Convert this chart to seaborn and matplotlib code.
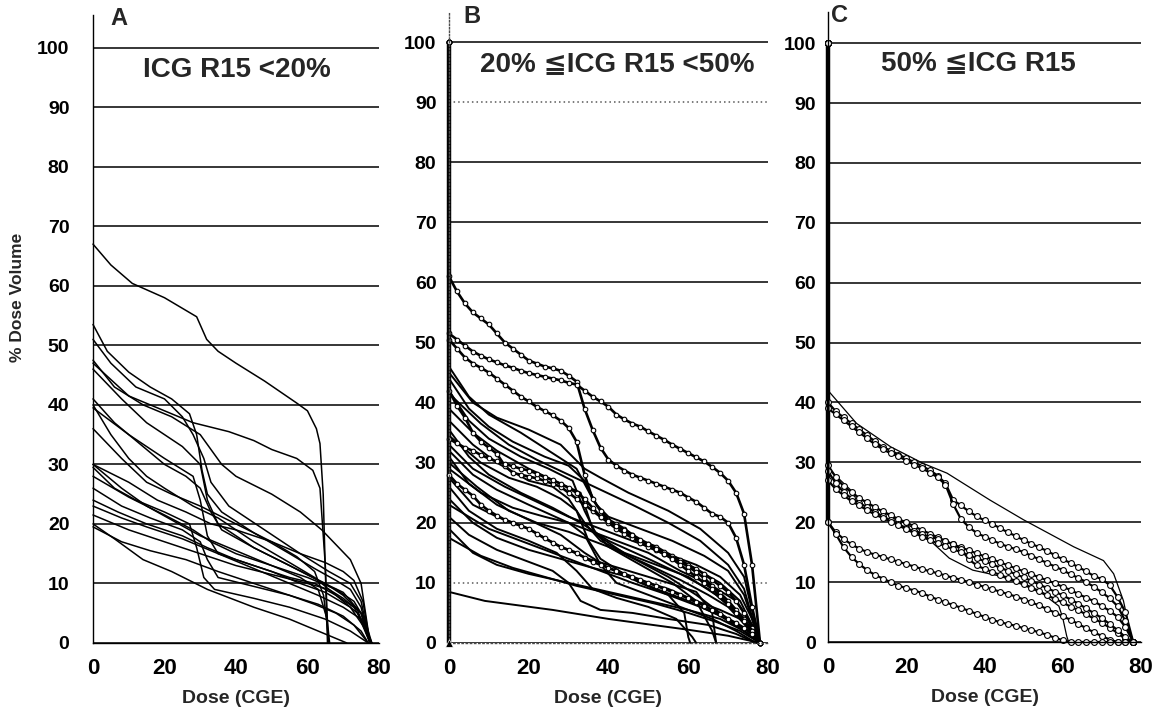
import pandas as pd
import matplotlib
matplotlib.use("Agg")
import matplotlib.pyplot as plt
import seaborn as sns

sns.set_style("white")
plt.rcParams['font.family'] = ['Liberation Sans', 'DejaVu Sans']
plt.rcParams['font.weight'] = 'bold'

# dose grid (CGE) used by the curves drawn with open markers
grid = list(range(0, 80, 2))

# Panel A : ICG R15 < 20%  -> (dose, % volume) per patient
curves_a = [
    [(0, 67), (5, 63.5), (11, 60.4), (20, 58), (29, 54.8), (31.8, 51), (35, 49), (40, 47), (48, 44), (57, 40.3),
     (60, 39), (62.5, 36), (63.5, 33.5), (64.4, 25), (65, 12), (65.6, 0)],
    [(0, 47), (10, 41.5), (20, 39), (28, 37), (38, 35.5), (45, 34), (50, 32.5), (57, 31), (61.5, 29), (63.5, 26),
     (65, 13), (65.8, 0)],
    [(0, 53.5), (4, 49), (10, 45.5), (16, 43), (22, 41), (27, 38.5), (29, 35), (30.5, 29), (32, 25), (36, 22),
     (45, 18.5), (55, 15), (62, 12.5), (68, 10.5), (72, 9), (75, 6), (77.5, 0)],
    [(0, 51), (5, 47), (12, 43), (20, 41), (25, 38), (28, 35), (31, 31), (33, 27), (38, 23), (48, 19), (58, 15),
     (66, 12), (72, 10), (75, 7), (77.5, 0)],
    [(0, 47.5), (6, 43), (14, 40), (22, 38), (30, 35), (36, 30), (40, 28), (50, 25), (58, 22), (64, 19),
     (68, 16.5), (72, 14), (75, 10), (77.5, 0)],
    [(0, 46), (8, 41), (15, 37), (25, 33), (30, 30), (32, 24), (35, 20), (45, 16), (55, 13), (65, 10), (70, 8),
     (75, 5), (77.5, 0)],
    [(0, 41), (6, 37), (12, 34), (20, 30), (26, 28), (30, 26), (33, 22), (36, 19), (45, 16), (55, 13),
     (63, 10.5), (70, 8.5), (75, 5), (77.5, 0)],
    [(0, 40), (5, 35), (10, 31), (15, 28), (20, 26), (28, 23), (35, 21), (45, 17), (55, 13.5), (62, 11), (68, 8),
     (74, 5), (77.5, 0)],
    [(0, 39.5), (10, 35), (20, 31), (28, 28), (30, 24), (32, 18), (35, 15), (45, 12.5), (55, 10), (63, 8),
     (70, 6), (75, 4), (77.5, 0)],
    [(0, 36), (8, 31), (15, 27), (22, 25), (30, 23), (40, 20), (50, 17), (57, 14.5), (62, 12), (64.5, 8),
     (65.5, 3), (66, 0)],
    [(0, 30), (10, 27), (18, 24), (26, 22), (33, 20), (40, 19), (50, 17), (58, 15), (65, 13.5), (70, 12),
     (73, 10.5), (75.5, 7), (77.5, 0)],
    [(0, 30), (8, 26), (15, 23), (24, 20), (30, 18), (40, 15.5), (50, 13), (58, 11), (63, 9), (65.5, 4),
     (66.2, 0)],
    [(0, 29.5), (6, 26), (12, 24), (20, 22), (27, 20), (29, 16), (31, 11), (34, 9), (45, 7.5), (55, 6), (65, 4),
     (72, 2), (77, 0)],
    [(0, 28), (10, 24.5), (20, 21.5), (28, 19), (33, 17), (40, 15), (50, 13), (60, 11), (68, 9), (73, 7), (76, 4),
     (78, 0)],
    [(0, 26), (8, 23), (16, 21), (25, 19), (30, 17), (32, 14), (35, 11), (45, 9.5), (55, 8), (63, 6.5),
     (70, 4.5), (75, 2), (77, 0)],
    [(0, 24), (7, 22), (15, 20), (25, 18), (32, 16), (40, 14), (50, 12), (58, 10), (65, 8.5), (72, 6), (76, 2.5),
     (78, 0)],
    [(0, 23), (8, 21), (15, 19.5), (25, 17.5), (35, 15), (45, 13), (55, 11), (62, 10), (68, 8), (73, 6), (76, 3),
     (78, 0)],
    [(0, 21.5), (10, 19), (20, 17), (30, 15), (40, 13), (50, 11.5), (60, 10), (66, 9), (70, 7.5), (74, 5.5),
     (77, 1), (78, 0)],
    [(0, 20), (6, 17.5), (14, 14), (22, 12), (32, 9), (45, 6), (55, 4), (65, 1.5), (71, 0)],
    [(0, 19.5), (8, 17), (16, 15.5), (26, 14), (35, 12), (45, 10), (55, 8), (62, 6.5), (68, 5), (73, 3), (77, 0)],
]

# Panel B : 20% <= ICG R15 < 50%
curves_b = [
    [(0, 46), (5, 41), (10, 38), (18, 35), (25, 32), (32, 29), (36, 24), (40, 20), (50, 16), (60, 13), (68, 10),
     (73, 7), (76, 3), (78, 0)],
    [(0, 45), (6, 40), (12, 37.5), (20, 35.5), (28, 33), (34, 29), (38, 27.5), (45, 25), (55, 22), (63, 19),
     (70, 15), (74, 11), (76.5, 4), (78, 0)],
    [(0, 42), (5, 37), (10, 34), (18, 31), (25, 29), (31, 27), (34, 22), (37, 18), (45, 14.5), (55, 11), (62, 8),
     (68, 5), (74, 2), (78, 0)],
    [(0, 41.5), (8, 36.5), (15, 33), (22, 30.5), (30, 28), (38, 25.5), (46, 23), (55, 20), (63, 17), (70, 13),
     (74, 9), (77, 2), (78, 0)],
    [(0, 39), (6, 35), (12, 32), (20, 29), (28, 26.5), (33, 25), (36, 19), (40, 16), (48, 13), (56, 10), (62, 7),
     (66, 2), (67, 0)],
    [(0, 35.5), (5, 31), (10, 28), (18, 25), (26, 22.5), (33, 20), (40, 17), (50, 14), (58, 11.5), (65, 9),
     (72, 5.5), (76, 2), (78, 0)],
    [(0, 34.5), (8, 30), (15, 27.5), (22, 26), (28, 24), (32, 22), (35, 17), (38, 14), (45, 11), (52, 9), (60, 7),
     (68, 4.5), (74, 2), (78, 0)],
    [(0, 32), (6, 28), (12, 25.5), (20, 23), (30, 20), (40, 17.5), (50, 15), (58, 12), (66, 9.5), (72, 7), (76, 3),
     (78, 0)],
    [(0, 31), (5, 26.5), (12, 23), (20, 20.5), (28, 18), (34, 15), (40, 12.5), (48, 10), (55, 8), (59, 5),
     (60, 1), (60.5, 0)],
    [(0, 30), (7, 26), (15, 22), (22, 20), (30, 18.5), (40, 16), (50, 13), (58, 10.5), (65, 8), (70, 6), (75, 2.5),
     (78, 0)],
    [(0, 29), (8, 25), (16, 22.5), (24, 21), (30, 20), (34, 18), (38, 13), (42, 10), (50, 8), (58, 6), (66, 4),
     (72, 2), (77, 0)],
    [(0, 27.5), (6, 23), (12, 21), (20, 19), (28, 16), (35, 14), (45, 12), (55, 10), (62, 8.5), (66, 5), (67, 0)],
    [(0, 26), (5, 22), (12, 19), (20, 17), (27, 15), (32, 12), (36, 9), (42, 7.5), (50, 6), (57, 4), (61, 1),
     (62, 0)],
    [(0, 24), (6, 20), (12, 17.5), (20, 15.5), (28, 14), (36, 12.5), (45, 11), (55, 9), (62, 7), (68, 5.5),
     (73, 4), (77, 1), (78, 0)],
    [(0, 23), (10, 19), (20, 16.5), (30, 14), (38, 12), (46, 10), (55, 8), (63, 6), (70, 4), (75, 2), (78, 0)],
    [(0, 21), (5, 18), (12, 15.5), (20, 13.5), (26, 12), (30, 10), (33, 7), (38, 5.5), (46, 5), (55, 4), (65, 3),
     (72, 1.5), (77, 0)],
    [(0, 19), (6, 15), (12, 13), (20, 11.5), (30, 10), (40, 8.5), (50, 7), (60, 5.5), (68, 4), (74, 2), (78, 0)],
    [(0, 17.5), (8, 14.5), (16, 12.5), (24, 11), (32, 9.5), (42, 8), (52, 6.5), (60, 5), (67, 3.5), (73, 2),
     (78, 0)],
    [(0, 8.5), (9, 7), (26, 5.5), (40, 4), (60, 2.2), (70, 1.2), (76, 0.3), (78, 0)],
    [(0, 37), (6, 33), (12, 30), (20, 27), (26, 26), (30, 24), (34, 20), (38, 17), (44, 15), (52, 13), (60, 11),
     (67, 8), (72, 5), (76, 2), (78, 0)],
    [(0, 44), (5, 39), (10, 36), (16, 33.5), (24, 31), (30, 29.5), (34, 27), (37, 23), (40, 21), (48, 19),
     (56, 17), (64, 14.5), (70, 12), (74, 8), (76.5, 3), (78, 0)],
    [(0, 33), (6, 29), (14, 26), (22, 23.5), (30, 21), (38, 19), (46, 17), (54, 15), (62, 13), (68, 11), (73, 8),
     (76, 4), (78, 0)],
]

# Panel B, patients plotted with open markers (volume on the dose grid)
marked_b = [
    [61, 58.5, 56.5, 55, 54, 53, 51.5, 50, 49, 48, 47, 46.5, 46, 45.7, 45.3, 44.5, 43.5, 39, 35.5, 32.5,
     30.5, 29.5, 28.7, 28, 27.5, 27, 26.5, 26, 25.5, 25, 24.2, 23.5, 22.5, 21.5, 21, 20, 17.5, 13, 6, 0],
    [51.5, 50.5, 49.5, 48.5, 47.8, 47.2, 46.7, 46.2, 45.8, 45.3, 44.9, 44.6, 44.3, 44, 43.7, 43.3, 43, 42, 41, 40.2,
     39.3, 38, 37.2, 36.5, 36, 35.2, 34.5, 33.8, 33, 32.3, 31.6, 30.9, 30.2, 29.3, 28.3, 27, 25, 21.5, 13, 0],
    [50.5, 49, 47.5, 46.5, 45.8, 45, 44, 43, 42, 41, 40.2, 39.3, 38.6, 37.9, 37, 35.8, 33.5, 28, 24, 22,
     20.5, 19.8, 19, 18, 17, 16.5, 16, 15.2, 14.5, 13.8, 13, 12.3, 11.5, 10.5, 9.5, 8.5, 7, 5, 2.5, 0],
    [42, 39.5, 37.5, 35, 33.5, 32.5, 31.5, 29.5, 28.3, 28, 27.7, 27.4, 27, 26.5, 26, 25, 24, 23, 22, 21,
     20, 19, 18.2, 17.5, 16.7, 16, 15.4, 14.8, 14.2, 13.5, 12.7, 11.8, 10.8, 9.5, 8.3, 7, 5.5, 4, 2, 0],
    [34, 33.2, 32.5, 32, 31.3, 30.7, 30.2, 29.8, 29.4, 29, 28.7, 28.2, 27.6, 27.1, 26.5, 25.8, 25, 24, 22.5, 21,
     20.3, 19.5, 18.8, 18, 17.2, 16.5, 15.7, 14.8, 14, 13, 12, 11, 10, 9, 7.8, 6.5, 5, 3.7, 2, 0],
    [28, 26.5, 25.5, 24.5, 23, 22, 21.2, 20.5, 20, 19.5, 19, 18.2, 17.4, 16.7, 16, 15.5, 15, 14.2, 13.5, 13,
     12.5, 12, 11.5, 11, 10.5, 10, 9.5, 9, 8.5, 8, 7.4, 6.8, 6.2, 5.5, 4.8, 4, 3.3, 2.5, 1.5, 0],
]

# Panel C : 50% <= ICG R15
curves_c = [
    [(0, 42), (7.3, 36.5), (16, 32.6), (24.4, 29.8), (30.4, 28.2), (41.4, 23.7), (50, 20.4), (62.8, 15.9),
     (70.4, 13.6), (73, 11.4), (75.5, 6.9), (77.3, 1.4), (78, 0)],
    [(0, 29), (8, 24), (16, 21), (22, 19), (26, 17), (31, 14), (37, 12), (44, 11), (50, 9.5), (55, 8), (59, 6),
     (60, 4), (61, 1), (61.5, 0)],
]

marked_c = [
    [40, 38.5, 37.5, 36.5, 35.5, 34.5, 33.5, 32.5, 32, 31.3, 30.7, 30, 29.4, 28.7, 27.8, 26.5, 23.7, 22.8, 21.8, 21,
     20.3, 19.7, 19, 18.3, 17.7, 17, 16.4, 15.8, 15.2, 14.5, 13.8, 13.2, 12.5, 11.8, 11, 10.5, 9.5, 7.5, 5, 0],
    [39, 38, 37, 36, 35, 34, 33, 32.2, 31.5, 31, 30.3, 29.6, 29, 28.3, 27.5, 26.3, 23, 20.5, 19.2, 18.2,
     17.6, 17, 16.4, 15.9, 15.5, 15, 14.4, 13.8, 13.2, 12.6, 12, 11.3, 10.7, 10, 9.2, 8.3, 7.3, 6, 3.5, 0],
    [29.5, 27.5, 26, 25, 24, 23.3, 22.5, 21.8, 21.2, 20.5, 20, 19.3, 18.7, 18.1, 17.5, 16.9, 16.3, 15.8, 15.3, 14.8,
     14.3, 13.8, 13.3, 12.8, 12.3, 11.8, 11.3, 10.8, 10.3, 9.8, 9.2, 8.7, 8, 7.4, 6.8, 6, 5.2, 4.2, 2.5, 0],
    [28.5, 26.5, 25, 24, 23.2, 22.5, 21.7, 21, 20.3, 19.7, 19, 18.5, 18, 17.6, 17.2, 16.8, 16.3, 15.5, 13.8, 12.8,
     12.2, 11.7, 11.2, 10.7, 10.2, 9.7, 9.1, 8.5, 7.8, 7.2, 6.6, 5.9, 5.3, 4.6, 3.9, 3.2, 2.4, 1.5, 0.5, 0],
    [27, 25.5, 24.5, 23.5, 22.8, 22, 21.3, 20.7, 20.1, 19.5, 18.8, 18.2, 17.6, 17, 16.5, 16, 15.5, 15, 14.5, 14,
     13.5, 13, 12.4, 11.9, 11.3, 10.8, 10.2, 9.6, 9, 8.4, 7.8, 7.1, 6.4, 5.6, 4.8, 4, 3, 2, 0.8, 0],
    [20, 18.3, 17.2, 16.3, 15.6, 15, 14.6, 14.2, 13.8, 13.4, 13, 12.6, 12.2, 11.8, 11.5, 11.1, 10.7, 10.4, 10, 9.6,
     9.2, 8.8, 8.4, 8, 7.6, 7.1, 6.6, 6.1, 5.5, 4.9, 4.3, 3.7, 3, 2.3, 1.6, 1, 0.4, 0, 0, 0],
    [20, 18, 15.8, 14.2, 13, 12, 11.2, 10.6, 10, 9.4, 9, 8.6, 8.2, 7.6, 7.1, 6.6, 6.2, 5.7, 5.2, 4.7,
     4.2, 3.7, 3.3, 3, 2.7, 2.3, 2, 1.6, 1.2, 0.7, 0.3, 0, 0, 0, 0, 0, 0, 0, 0, 0],
]

# vertical 100 % segments at zero dose (every DVH starts at 100 %)
b_axis_pts = [(0, 100), (0, 0)]
c_axis_pts = [(0, 100), (0, 20)]

y_ticks = list(range(0, 101, 10))
x_ticks = [0, 20, 40, 60, 80]
panel_letters = ["A", "B", "C"]
panel_titles = ["ICG R15 <20%", "20% \u2266ICG R15 <50%", "50% \u2266ICG R15"]


def to_frame(curves, start=None):
    rows = []
    for i, pts in enumerate(curves):
        pts = list(pts)
        if start is not None:
            pts = [start] + pts
        for d, v in pts:
            rows.append((i, d, v))
    return pd.DataFrame(rows, columns=["curve", "dose", "vol"])


def marked_frame(vols_list):
    return to_frame([list(zip(grid, v)) for v in vols_list], start=(0, 100))


def draw(ax, df, lw, marker=None, ms=4):
    kw = dict(clip_on=False)
    if marker:
        kw.update(marker=marker, markersize=ms, markerfacecolor="white",
                  markeredgecolor="black", markeredgewidth=0.8)
    sns.lineplot(data=df, x="dose", y="vol", units="curve", estimator=None, sort=False,
                 color="black", lw=lw, ax=ax, legend=False, **kw)


fig = plt.figure(figsize=(11.61, 7.23), dpi=100)
ax_a = fig.add_axes([0.0801, 0.1107, 0.2463, 0.8686])
ax_b = fig.add_axes([0.3867, 0.1107, 0.2748, 0.8727])
ax_c = fig.add_axes([0.7132, 0.1120, 0.2696, 0.8714])

draw(ax_a, to_frame(curves_a), 1.1)

draw(ax_b, to_frame([b_axis_pts]), 3.2)
draw(ax_b, to_frame(curves_b, start=(0, 100)), 1.4)
draw(ax_b, marked_frame(marked_b), 1.9, marker="o", ms=3.3)
sns.scatterplot(x=[0], y=[0], marker="^", color="black", s=30, ax=ax_b, clip_on=False, zorder=5)

draw(ax_c, to_frame([c_axis_pts]), 3.2)
draw(ax_c, to_frame(curves_c, start=(0, 100)), 0.9)
draw(ax_c, marked_frame(marked_c), 1.6, marker="o", ms=4.2)

ylims = [105.5, 105.0, 105.2]
ypads = [14, 6, 5.5]
for ax, top, pad in zip([ax_a, ax_b, ax_c], ylims, ypads):
    ax.set_xlim(0, 80)
    ax.set_ylim(0, top)
    ax.set_xticks(x_ticks)
    ax.set_yticks(y_ticks)
    ax.set_xticklabels([str(t) for t in x_ticks], fontsize=16, fontweight="bold")
    ax.set_yticklabels([str(t) for t in y_ticks], fontsize=14, fontweight="bold")
    ax.tick_params(axis="x", direction="in", length=4, width=1, pad=11, colors="black")
    ax.tick_params(axis="y", direction="out", length=3, width=1, pad=pad, colors="black")
    ax.yaxis.grid(True, color="black", lw=1.1)
    ax.xaxis.grid(False)
    ax.set_axisbelow(True)
    ax.set_xlabel("Dose (CGE)", fontsize=14, fontweight="bold", labelpad=8)
    ax.set_ylabel("")
    for side in ["top", "right"]:
        ax.spines[side].set_visible(False)
    ax.spines["left"].set_color("black")
    ax.spines["bottom"].set_color("black")
    ax.spines["left"].set_linewidth(1.0)
    ax.spines["bottom"].set_linewidth(1.0)

# faint dotted 10 % and 90 % lines in panel B
glines = ax_b.get_ygridlines()
for idx in [1, 9]:
    glines[idx].set_linestyle((0, (1, 2)))
    glines[idx].set_color("0.35")
ax_b.spines["left"].set_linestyle((0, (1, 1.5)))
ax_b.spines["left"].set_color("0.3")
ax_b.spines["bottom"].set_linestyle((0, (1, 2)))
ax_b.spines["bottom"].set_color("0.3")

fig.text(0.0155, 0.589, "% Dose Volume", rotation=90, ha="center", va="center",
         fontsize=12.5, fontweight="bold")

letter_pos = [(0.1025, 0.975), (0.4066, 0.9765), (0.7235, 0.978)]
title_pos = [(0.2041, 0.9032), (0.5314, 0.9115), (0.8424, 0.9129)]
for letter, (lx, ly), title, (tx, ty) in zip(panel_letters, letter_pos, panel_titles, title_pos):
    fig.text(lx, ly, letter, ha="center", va="center", fontsize=17, fontweight="bold")
    fig.text(tx, ty, title, ha="center", va="center", fontsize=20, fontweight="bold")

fig.savefig("out.png", dpi=100)
